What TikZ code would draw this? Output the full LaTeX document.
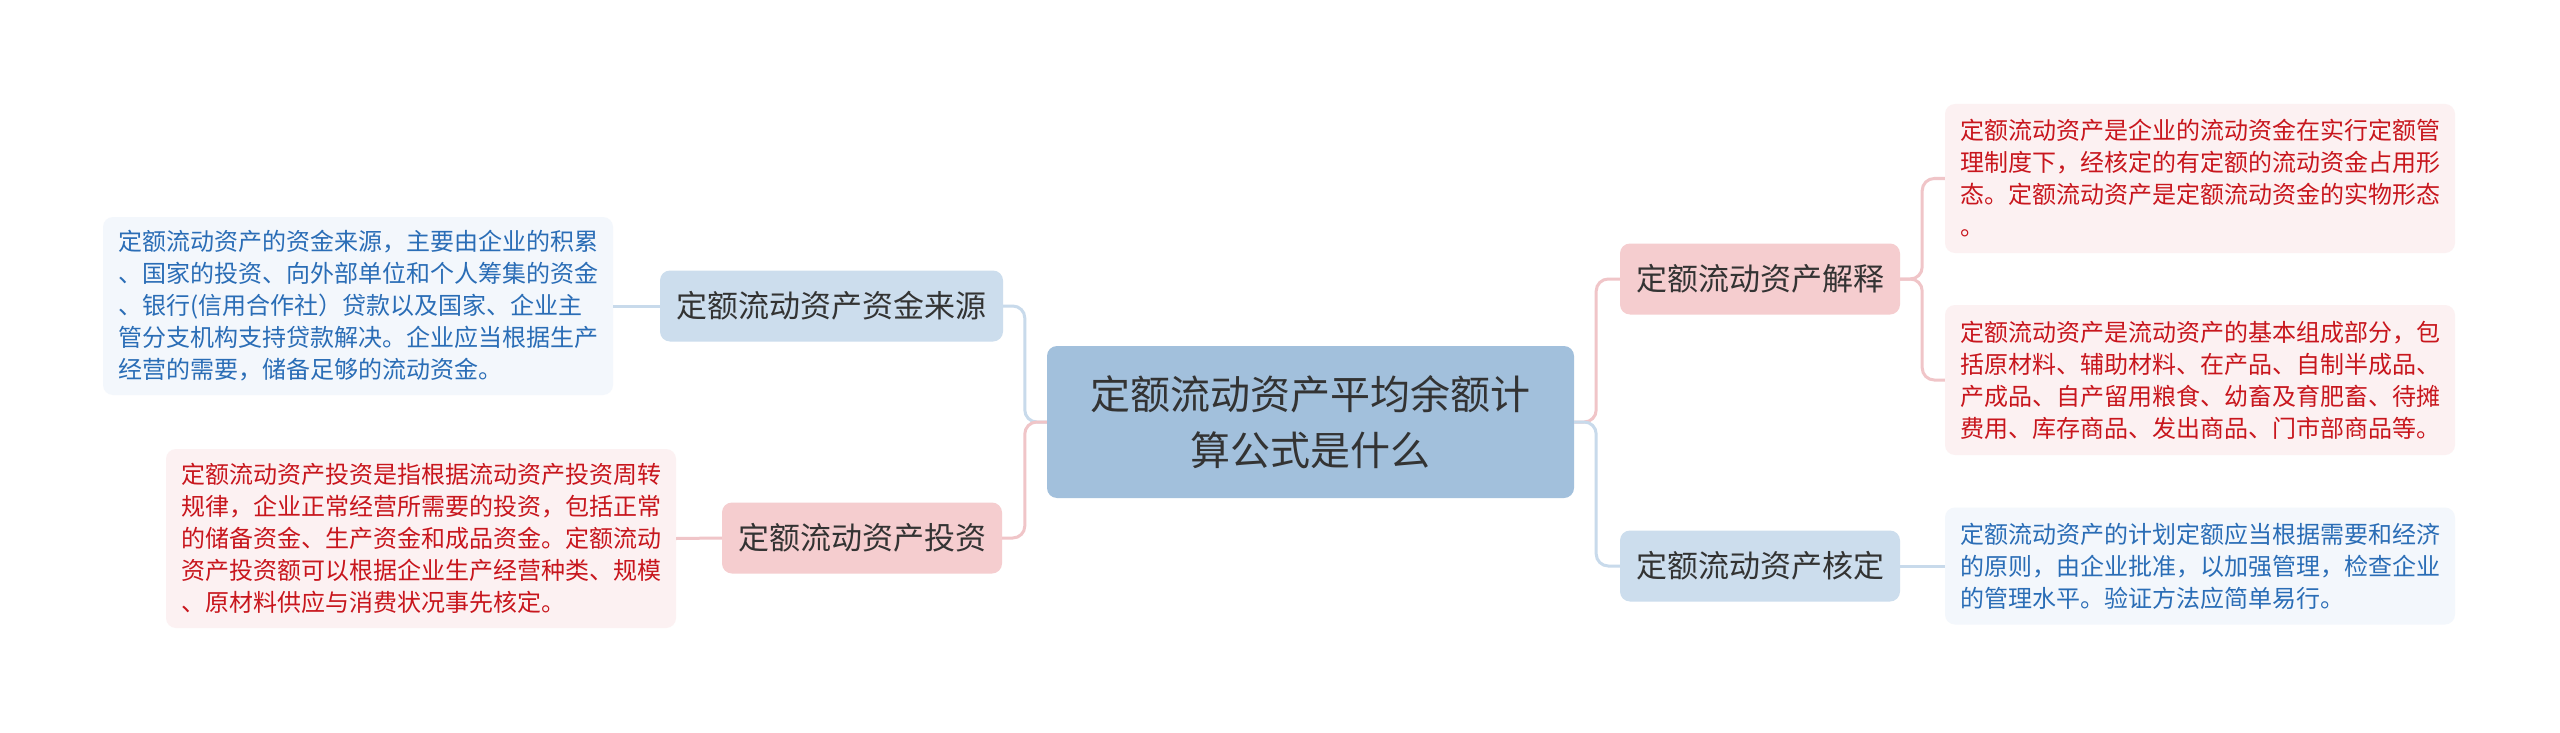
\documentclass[tikz,border=0pt]{standalone}
\usepackage{fontspec}
\usepackage{tikz}
\newfontfamily\cjk{Noto Sans CJK SC}
\definecolor{RootBlue}{RGB}{162,192,220}
\definecolor{SubBlue} {RGB}{204,221,237}
\definecolor{SubPink} {RGB}{245,205,207}
\definecolor{LeafBlue}{RGB}{243,247,252}
\definecolor{LeafPink}{RGB}{252,241,242}
\definecolor{InkBlue} {RGB}{42,109,182}
\definecolor{InkRed}  {RGB}{200,22,29}
\definecolor{InkGray} {RGB}{51,51,51}
\definecolor{LineBlue}{RGB}{200,218,235}
\definecolor{LinePink}{RGB}{240,197,200}

\begin{document}
\begin{tikzpicture}[x=1pt, y=-1pt,
    rootbox/.style={fill=RootBlue, text=InkGray, rounded corners=10pt, align=center,
      minimum width=527pt, minimum height=152pt, font=\cjk\fontsize{40}{56}\selectfont},
    subbox/.style={rounded corners=10pt, text=InkGray, inner xsep=15pt,
      minimum height=71pt, font=\cjk\fontsize{31}{37}\selectfont},
    leafbox/.style={rounded corners=10pt, align=left, minimum width=510pt,
      font=\cjk\fontsize{24}{32}\selectfont},
    bluelink/.style={LineBlue, line width=3pt, rounded corners=12pt},
    pinklink/.style={LinePink, line width=3pt, rounded corners=12pt}]
  \useasboundingbox (0,0) rectangle (2560,733);
  \fill[white] (0,0) rectangle (2560,733);

  \node[rootbox] (root) at (1310.5,422) {定额流动资产平均余额计\\算公式是什么};

  \node[subbox, fill=SubBlue, minimum width=343pt] (src) at (831.5,306) {定额流动资产资金来源};
  \node[subbox, fill=SubPink, minimum width=280pt] (inv) at (862,538) {定额流动资产投资};
  \node[subbox, fill=SubPink, minimum width=280pt] (expl) at (1760,279) {定额流动资产解释};
  \node[subbox, fill=SubBlue, minimum width=280pt] (chk) at (1760,566) {定额流动资产核定};

  \node[leafbox, fill=LeafBlue, text=InkBlue, minimum height=178pt] (srcnote) at (358,306)
    {定额流动资产的资金来源，主要由企业的积累\\、国家的投资、向外部单位和个人筹集的资金\\、银行(信用合作社）贷款以及国家、企业主\\管分支机构支持贷款解决。企业应当根据生产\\经营的需要，储备足够的流动资金。};
  \node[leafbox, fill=LeafPink, text=InkRed, minimum height=179pt] (invnote) at (421,538.5)
    {定额流动资产投资是指根据流动资产投资周转\\规律，企业正常经营所需要的投资，包括正常\\的储备资金、生产资金和成品资金。定额流动\\资产投资额可以根据企业生产经营种类、规模\\、原材料供应与消费状况事先核定。};
  \node[leafbox, fill=LeafPink, text=InkRed, minimum height=149pt] (explnote1) at (2200,178.5)
    {定额流动资产是企业的流动资金在实行定额管\\理制度下，经核定的有定额的流动资金占用形\\态。定额流动资产是定额流动资金的实物形态\\。};
  \node[leafbox, fill=LeafPink, text=InkRed, minimum height=150pt] (explnote2) at (2200,380)
    {定额流动资产是流动资产的基本组成部分，包\\括原材料、辅助材料、在产品、自制半成品、\\产成品、自产留用粮食、幼畜及育肥畜、待摊\\费用、库存商品、发出商品、门市部商品等。};
  \node[leafbox, fill=LeafBlue, text=InkBlue, minimum height=117pt] (chknote) at (2200,566)
    {定额流动资产的计划定额应当根据需要和经济\\的原则，由企业批准，以加强管理，检查企业\\的管理水平。验证方法应简单易行。};

  \draw[bluelink] (root.west) -- ++(-22,0) |- (src.east);
  \draw[pinklink] (root.west) -- ++(-22,0) |- (inv.east);
  \draw[pinklink] (root.east) -- ++(22,0) |- (expl.west);
  \draw[bluelink] (root.east) -- ++(22,0) |- (chk.west);

  \draw[bluelink] (src.west) -- (srcnote.east);
  \draw[pinklink] (inv.west) -- (invnote.east);
  \draw[pinklink] (expl.east) -- ++(22,0) |- (explnote1.west);
  \draw[pinklink] (expl.east) -- ++(22,0) |- (explnote2.west);
  \draw[bluelink] (chk.east) -- (chknote.west);
\end{tikzpicture}
\end{document}
